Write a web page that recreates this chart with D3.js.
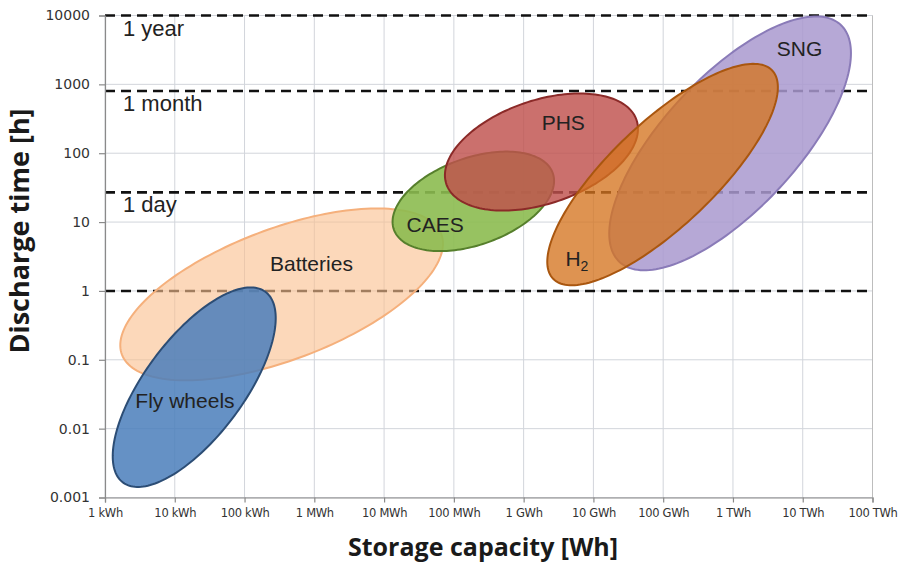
<!DOCTYPE html>
<html>
<head>
<meta charset="UTF-8">
<title>Storage capacity vs discharge time</title>
<script src="https://d3js.org/d3.v7.min.js"></script>
<style>
  body { margin: 0; background: #fff; }
  svg { display: block; }
</style>
</head>
<body>
<svg id="chart" width="906" height="564"></svg>
<script>
// axis ticks
const capacityTicks = [1e3, 1e4, 1e5, 1e6, 1e7, 1e8, 1e9, 1e10, 1e11, 1e12, 1e13, 1e14];
const capacityLabels = ["1 kWh", "10 kWh", "100 kWh", "1 MWh", "10 MWh", "100 MWh",
                        "1 GWh", "10 GWh", "100 GWh", "1 TWh", "10 TWh", "100 TWh"];
const timeTicks = [0.001, 0.01, 0.1, 1, 10, 100, 1000, 10000];
const timeLabels = ["0.001", "0.01", "0.1", "1", "10", "100", "1000", "10000"];

// dashed reference durations (hours)
const durationHours = [10000, 800, 27, 1];
const durationLabels = ["1 year", "1 month", "1 day", ""];

// technology regions: centre (Wh, h), half axes in decades, tilt in degrees
const techNames = ["Batteries", "Fly wheels", "CAES", "PHS", "SNG", "H2"];
const centerWh = [3.4e5, 1.9e4, 1.9e8, 1.8e9, 9.1e11, 9.8e10];
const centerHours = [0.89, 0.04, 20, 104, 139, 49];
const majorDecades = [2.45, 1.72, 1.21, 1.44, 2.34, 2.18];
const minorDecades = [0.95, 0.71, 0.63, 0.75, 0.96, 0.75];
const tiltDeg = [21, 53.7, 20, 19, 47.5, 44];
const labelWh = [9.1e5, 1.4e4, 5.4e7, 3.7e9, 9.0e12, 5.8e9];
const labelHours = [2.5, 0.026, 9.2, 279, 3300, 3.0];

const styles = {
  "Batteries":  {fill: "#fac090", op: 0.62, stroke: "#f5b07c"},
  "Fly wheels": {fill: "#4a7ebb", op: 0.85, stroke: "#2c4d75"},
  "CAES":       {fill: "#8cbb50", op: 0.9,  stroke: "#567f2c"},
  "PHS":        {fill: "#c0504d", op: 0.82, stroke: "#8b2a28"},
  "SNG":        {fill: "#a999cf", op: 0.85, stroke: "#8a7bb8"},
  "H2":         {fill: "#d57520", op: 0.78, stroke: "#a9560f"}
};

var margin = {top: 15.5, right: 33.5, bottom: 66.5, left: 105};
var WIDTH = 906, HEIGHT = 564;
var svg = d3.select("#chart");

var x = d3.scaleLog().domain([1e3, 1e14]).range([margin.left, WIDTH - margin.right]);
var y = d3.scaleLog().domain([1e-3, 1e4]).range([HEIGHT - margin.bottom, margin.top]);

// grid
var grid = svg.append("g");
grid.selectAll("line.v").data(capacityTicks).enter().append("line")
  .attr("x1", d => x(d)).attr("x2", d => x(d))
  .attr("y1", y(1e-3)).attr("y2", y(1e4))
  .style("stroke", "#d2d5db").style("stroke-width", 1);
grid.selectAll("line.h").data(timeTicks).enter().append("line")
  .attr("x1", x(1e3)).attr("x2", x(1e14))
  .attr("y1", d => y(d)).attr("y2", d => y(d))
  .style("stroke", "#d2d5db").style("stroke-width", 1);

// right frame
svg.append("line").attr("x1", x(1e14)).attr("x2", x(1e14)).attr("y1", y(1e4)).attr("y2", y(1e-3))
  .style("stroke", "#bdbdbd");

// dashed duration lines
svg.append("g").selectAll("line").data(durationHours).enter().append("line")
  .attr("x1", x(1e3)).attr("x2", x(1e14) - 5)
  .attr("y1", d => y(d)).attr("y2", d => y(d))
  .style("stroke", "#111").style("stroke-width", 2.6)
  .style("stroke-dasharray", "10,6");

svg.append("g").selectAll("text").data(durationHours).enter().append("text")
  .attr("x", x(1e3) + 18)
  .attr("y", d => y(d) + 20)
  .text((d, i) => durationLabels[i])
  .style("font-family", "'Liberation Sans', Arial, sans-serif")
  .style("font-size", "22px").style("fill", "#222");

// ellipses built in log space, mapped through the scales
function ellipsePath(i) {
  var cx = Math.log10(centerWh[i]), cy = Math.log10(centerHours[i]);
  var a = majorDecades[i], b = minorDecades[i];
  var th = tiltDeg[i] * Math.PI / 180;
  var pts = d3.range(0, 360, 2).map(function(deg) {
    var t = deg * Math.PI / 180;
    var u = a * Math.cos(t), v = b * Math.sin(t);
    var lx = cx + u * Math.cos(th) - v * Math.sin(th);
    var ly = cy + u * Math.sin(th) + v * Math.cos(th);
    return [x(Math.pow(10, lx)), y(Math.pow(10, ly))];
  });
  return d3.line().curve(d3.curveLinearClosed)(pts);
}

svg.append("g").selectAll("path").data(techNames).enter().append("path")
  .attr("d", (d, i) => ellipsePath(i))
  .style("fill", d => styles[d].fill)
  .style("fill-opacity", d => styles[d].op)
  .style("stroke", d => styles[d].stroke)
  .style("stroke-width", 2);

// region labels
var labels = svg.append("g").selectAll("text").data(techNames).enter().append("text")
  .attr("x", (d, i) => x(labelWh[i]))
  .attr("y", (d, i) => y(labelHours[i]))
  .attr("dy", "0.36em")
  .attr("text-anchor", "middle")
  .style("font-family", "'Liberation Sans', Arial, sans-serif")
  .style("font-size", "21px").style("fill", "#222");
labels.each(function(d) {
  var t = d3.select(this);
  if (d == "H2") {
    t.append("tspan").text("H");
    t.append("tspan").text("2").attr("dy", "5").style("font-size", "14px");
  } else {
    t.text(d);
  }
});

// axes
var xAxis = d3.axisBottom(x).tickValues(capacityTicks)
  .tickFormat((d, i) => capacityLabels[i]).tickSize(5).tickPadding(6);
var gx = svg.append("g").attr("transform", "translate(0," + y(1e-3) + ")").call(xAxis);
gx.selectAll("text").style("font-family", "'DejaVu Sans', sans-serif")
  .style("font-size", "11.5px").style("fill", "#333").style("letter-spacing", "-0.3px");

var yAxis = d3.axisLeft(y).tickValues(timeTicks)
  .tickFormat((d, i) => timeLabels[i]).tickSize(6).tickPadding(9);
var gy = svg.append("g").attr("transform", "translate(" + x(1e3) + ",0)").call(yAxis);
gy.selectAll("text").style("font-family", "'DejaVu Sans', sans-serif")
  .style("font-size", "14px").style("fill", "#333");

svg.selectAll(".domain, .tick line").style("stroke", "#8a8a8a").style("stroke-width", 1.2);

// axis titles
svg.append("text")
  .attr("transform", "translate(29," + 231 + ") rotate(-90)")
  .attr("text-anchor", "middle")
  .text("Discharge time [h]")
  .style("font-family", "'Open Sans', sans-serif").style("font-weight", "bold")
  .style("font-size", "27px").style("fill", "#1a1a1a");

svg.append("text")
  .attr("x", 483).attr("y", 556)
  .attr("text-anchor", "middle")
  .text("Storage capacity [Wh]")
  .style("font-family", "'Open Sans', sans-serif").style("font-weight", "bold")
  .style("font-size", "25px").style("fill", "#1a1a1a");
</script>
</body>
</html>
